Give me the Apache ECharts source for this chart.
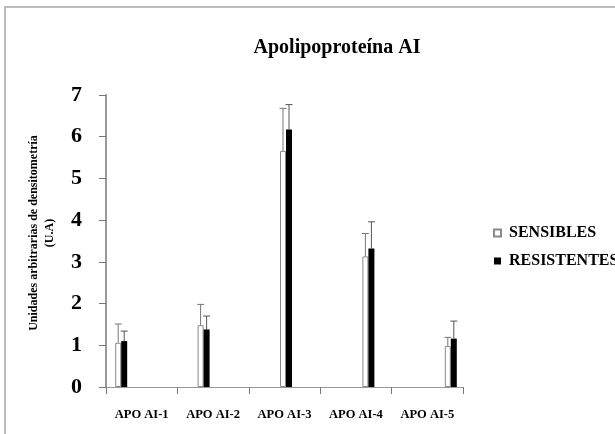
<!DOCTYPE html>
<html>
<head>
<meta charset="utf-8">
<script src="https://cdn.jsdelivr.net/npm/echarts@6/dist/echarts.min.js"></script>
<style>
	html, body { margin: 0; padding: 0; background: #fff; }
	#chart { width: 615px; height: 434px; }
</style>
</head>
<body>
<div id="chart"></div>
<script>
	var categories = ['APO AI-1', 'APO AI-2', 'APO AI-3', 'APO AI-4', 'APO AI-5'];
	var sensibles = [1.06, 1.48, 5.66, 3.13, 0.98];
	var resistentes = [1.10, 1.38, 6.17, 3.32, 1.16];
	// error (solo hacia arriba)
	var sensiblesErr = [0.45, 0.50, 1.02, 0.55, 0.21];
	var resistentesErr = [0.24, 0.32, 0.60, 0.64, 0.42];
	var yTicks = [0, 1, 2, 3, 4, 5, 6, 7];

	var serif = 'Liberation Serif';

	function errData(vals, errs) {
		return vals.map(function(v, i) { return [i, v, v + errs[i]]; });
	}

	function errRender(shift, color) {
		return function(params, api) {
			var base = api.coord([api.value(0), api.value(1)]);
			var top = api.coord([api.value(0), api.value(2)]);
			var x = base[0] + shift;
			return {
				type: 'group',
				children: [
					{ type: 'line', shape: { x1: x, y1: base[1], x2: x, y2: top[1] }, style: { stroke: color, lineWidth: 1 } },
					{ type: 'line', shape: { x1: x - 3.5, y1: top[1], x2: x + 3.5, y2: top[1] }, style: { stroke: color, lineWidth: 1 } }
				]
			};
		};
	}

	var option = {
		backgroundColor: '#fff',
		animation: false,
		title: {
			text: 'Apolipoproteína AI',
			left: 332,
			top: 33,
			textAlign: 'center',
			textStyle: { fontFamily: serif, fontSize: 20, fontWeight: 'bold', color: '#000' }
		},
		legend: {
			orient: 'vertical',
			left: 488,
			top: 220,
			itemWidth: 7,
			itemHeight: 7,
			itemGap: 12,
			icon: 'rect',
			data: ['SENSIBLES', 'RESISTENTES'],
			textStyle: { fontFamily: serif, fontSize: 16, fontWeight: 'bold', color: '#000', padding: [0, 0, 0, 3] }
		},
		graphic: [
			{
				type: 'rect',
				shape: { x: 5, y: 7, width: 700, height: 500 },
				style: { fill: 'none', stroke: '#a8a8a8', lineWidth: 1.5 },
				silent: true
			},
			{
				type: 'text',
				x: 42,
				y: 233,
				rotation: Math.PI / 2,
				style: {
					text: 'Unidades arbitrarias de densitometría\n(U.A)',
					font: 'bold 12px "Liberation Serif"',
					fill: '#000',
					align: 'center',
					verticalAlign: 'middle',
					lineHeight: 16
				}
			}
		],
		grid: [
			{ left: 106, top: 95, width: 357, height: 292, outerBoundsMode: 'none' },
			{ left: 80, top: 95, width: 412, height: 292, outerBoundsMode: 'none' }
		],
		xAxis: [
			{
				type: 'category',
				gridIndex: 0,
				data: categories,
				axisLine: { lineStyle: { color: '#999', width: 1 } },
				axisTick: { show: true, interval: 0, length: 7, lineStyle: { color: '#777' } },
				axisLabel: { interval: 0, margin: 21, fontFamily: serif, fontSize: 12.5, fontWeight: 'bold', color: '#000' }
			},
			{
				type: 'category',
				gridIndex: 1,
				data: categories,
				show: false
			}
		],
		yAxis: [
			{
				type: 'value',
				gridIndex: 0,
				min: yTicks[0],
				max: yTicks[yTicks.length - 1],
				interval: 1,
				splitLine: { show: false },
				axisLine: { show: true, lineStyle: { color: '#999', width: 2 } },
				axisTick: { show: true, length: 7, lineStyle: { color: '#777' } },
				axisLabel: { margin: 24, fontFamily: serif, fontSize: 22, fontWeight: 'bold', color: '#000' }
			},
			{
				type: 'value',
				gridIndex: 1,
				min: yTicks[0],
				max: yTicks[yTicks.length - 1],
				show: false,
				splitLine: { show: false }
			}
		],
		series: [
			{
				name: 'SENSIBLES',
				type: 'bar',
				xAxisIndex: 1,
				yAxisIndex: 1,
				barWidth: 6,
				barGap: '0%',
				itemStyle: { color: '#fff', borderColor: '#888', borderWidth: 1 },
				data: sensibles
			},
			{
				name: 'RESISTENTES',
				type: 'bar',
				xAxisIndex: 1,
				yAxisIndex: 1,
				barWidth: 6,
				barGap: '0%',
				itemStyle: { color: '#000' },
				data: resistentes
			},
			{
				type: 'custom',
				xAxisIndex: 1,
				yAxisIndex: 1,
				z: 5,
				renderItem: errRender(-3, '#777'),
				data: errData(sensibles, sensiblesErr)
			},
			{
				type: 'custom',
				xAxisIndex: 1,
				yAxisIndex: 1,
				z: 5,
				renderItem: errRender(3, '#555'),
				data: errData(resistentes, resistentesErr)
			}
		]
	};

	var myChart = echarts.init(document.getElementById('chart'));
	myChart.setOption(option, true);
</script>
</body>
</html>
